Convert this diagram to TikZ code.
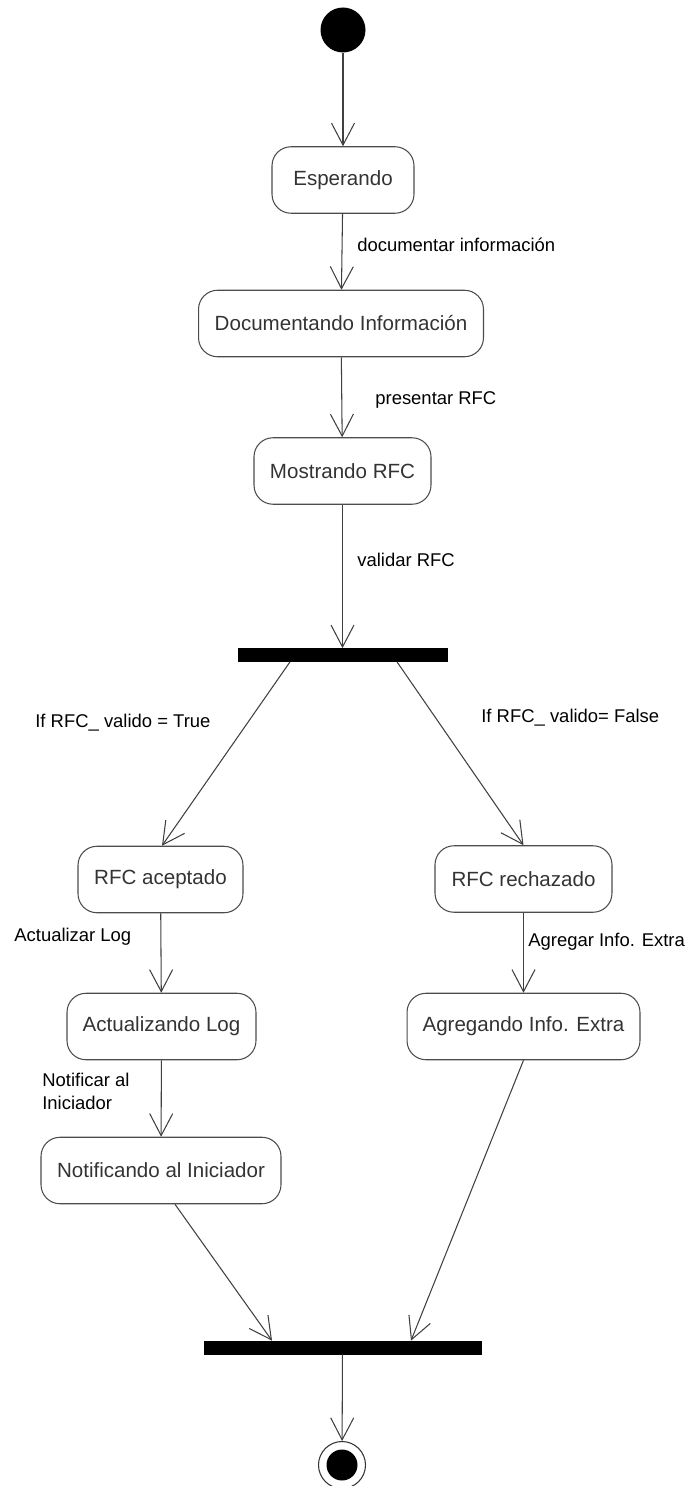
\documentclass[tikz,border=0pt]{standalone}
\usepackage{fontspec}
\setmainfont{Liberation Sans}
\usetikzlibrary{arrows.meta}

\tikzset{
  estado/.style={draw=black!70, line width=0.6pt, rounded corners=0.38cm,
    minimum height=1.33cm, inner sep=0pt, text=black!80,
    font=\fontsize{11.7}{13}\selectfont},
  barra/.style={fill=black, draw=black, inner sep=0pt, minimum height=0.26cm},
  flecha/.style={draw=black!75, line width=0.6pt,
    -{Straight Barb[length=0.44cm,width=0.46cm]}},
  etiqueta/.style={anchor=west, inner sep=0pt, font=\fontsize{10.5}{13}\selectfont,
    align=left}
}

\begin{document}
\begin{tikzpicture}[x=0.02cm, y=-0.02cm]

  \useasboundingbox (0,0) rectangle (688,1486);

  % Initial and final states
  \node[circle, fill=black, minimum size=0.9cm, inner sep=0pt] (inicio) at (343,30) {};
  \node[circle, draw=black!80, line width=0.6pt, minimum size=0.94cm, inner sep=0pt] (fin) at (342,1465) {};
  \fill (fin.center) circle (0.31cm);

  % States
  \node[estado, minimum width=2.84cm] (esperando) at (343,180) {Esperando};
  \node[estado, minimum width=5.7cm] (documentando) at (341,323.5) {Documentando Información};
  \node[estado, minimum width=3.54cm] (mostrando) at (342.5,471) {Mostrando RFC};
  \node[estado, minimum width=3.3cm] (aceptado) at (160.5,879.5) {RFC aceptado};
  \node[estado, minimum width=3.54cm] (rechazado) at (523.5,879) {RFC rechazado};
  \node[estado, minimum width=3.78cm] (actualizando) at (161.5,1026.5) {Actualizando Log};
  \node[estado, minimum width=4.66cm] (agregando) at (523.5,1026.5) {Agregando Info. Extra};
  \node[estado, minimum width=4.8cm] (notificando) at (161,1170.5) {Notificando al Iniciador};

  % Fork and join bars
  \node[barra, minimum width=4.18cm] (bifurcacion) at (342.5,655) {};
  \node[barra, minimum width=5.54cm] (union) at (342.5,1347.5) {};

  % Transitions
  \draw[flecha] (inicio) -- (esperando);
  \draw[flecha] (esperando) -- (documentando);
  \draw[flecha] (documentando) -- (mostrando);
  \draw[flecha] (mostrando) -- (bifurcacion);
  \draw[flecha] ([xshift=-1.05cm]bifurcacion.south) -- ([xshift=0.03cm]aceptado.north);
  \draw[flecha] ([xshift=1.09cm]bifurcacion.south) -- (rechazado.north);
  \draw[flecha] (aceptado) -- (actualizando);
  \draw[flecha] (rechazado) -- (agregando);
  \draw[flecha] (actualizando) -- (notificando);
  \draw[flecha] ([xshift=0.28cm]notificando.south) -- ([xshift=-1.41cm]union.north);
  \draw[flecha] (agregando.south) -- ([xshift=1.37cm]union.north);
  \draw[flecha] (union) -- (fin);

  % Labels
  \node[etiqueta] (l1) at (357,245) {documentar información};
  \node[etiqueta] (l2) at (375,400) {presentar RFC};
  \node[etiqueta] (l3) at (357,560) {validar RFC};
  \node[etiqueta] (l4) at (35,723) {If RFC\_ valido = True};
  \node[etiqueta] (l5) at (481,718) {If RFC\_ valido= False};
  \node[etiqueta] (l6) at (14,937) {Actualizar Log};
  \node[etiqueta] (l7) at (528,942) {Agregar Info. Extra};
  \node[etiqueta] (l8) at (42,1091.5) {Notificar al\\Iniciador};

\end{tikzpicture}
\end{document}
